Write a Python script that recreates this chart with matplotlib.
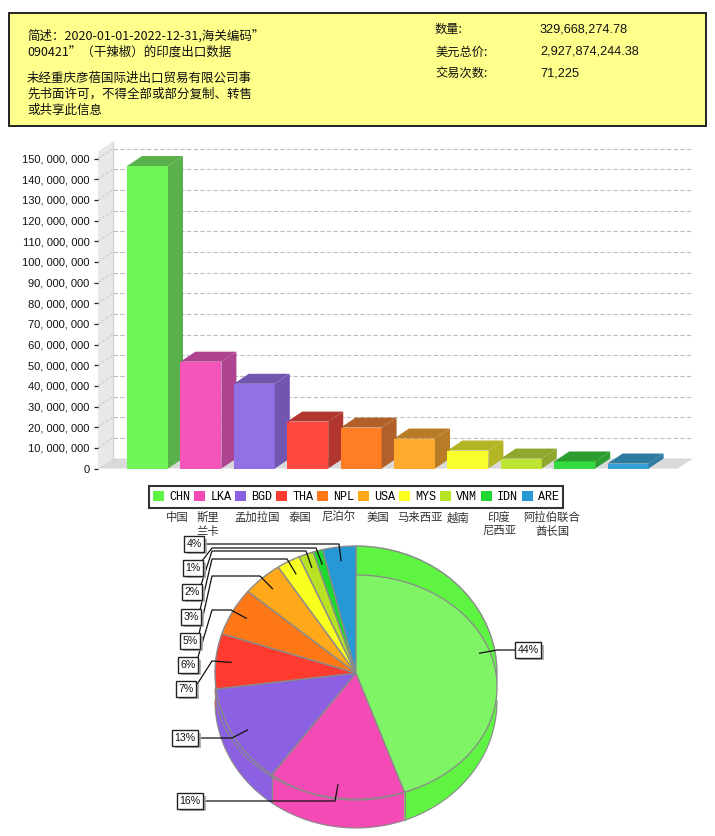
import numpy as np
import matplotlib
matplotlib.use('Agg')
import matplotlib.pyplot as plt
import matplotlib.patheffects as pe
from matplotlib.patches import Polygon, Rectangle, Patch

plt.rcParams['font.family'] = ['Noto Sans CJK SC', 'DejaVu Sans']

codes = ['CHN', 'LKA', 'BGD', 'THA', 'NPL', 'USA', 'MYS', 'VNM', 'IDN', 'ARE']
names = ['中国', '斯里\n兰卡', '孟加拉国', '泰国', '尼泊尔', '美国', '马来西亚', '越南', '印度\n尼西亚', '阿拉伯联合\n酋长国']
bar_values = [146400000, 51700000, 41000000, 22700000, 19800000, 14500000, 8700000, 4800000, 3400000, 2400000]
pie_shares = [44.4, 15.8, 12.8, 7.0, 6.1, 4.6, 2.7, 1.7, 1.1, 3.8]
yticks = list(range(0, 160000000, 10000000))

front_colors = ['#70F558', '#F555BB', '#9470E6', '#FF4840', '#FF7E25', '#FFAA2C', '#F8FF2C', '#BEE434', '#33DC3E', '#38A0D8']
side_colors = ['#5AB04A', '#AE4490', '#7255AF', '#B23630', '#B06028', '#B87C26', '#B4B525', '#8EA72C', '#2C9E30', '#2E7BA0']
pie_colors = ['#5FF342', '#F44AB6', '#8B60E2', '#FF3A2E', '#FF7818', '#FFA81A', '#F9FF1E', '#B8E324', '#1FD82F', '#2698D6']

W, H = 715, 836
fig = plt.figure(figsize=(W / 100, H / 100), dpi=100)


def px_axes(left, top, right, bottom):
    return fig.add_axes([left / W, 1 - bottom / H, (right - left) / W, (bottom - top) / H])


# full figure overlay in pixels, for header box, labels and leader lines
ov = px_axes(0, 0, W, H)
ov.set_xlim(0, W)
ov.set_ylim(H, 0)
ov.set_axis_off()
ov.set_zorder(5)
ov.patch.set_alpha(0)

ov.add_patch(Rectangle((9, 13), 697, 113, fc='#FFFF8C', ec='#222222', lw=1.4))
left_lines = [('简述：2020-01-01-2022-12-31,海关编码”', 36), ('090421”（干辣椒）的印度出口数据', 52),
              ('未经重庆彦蓓国际进出口贸易有限公司事', 78), ('先书面许可，不得全部或部分复制、转售', 94), ('或共享此信息', 110)]
for s, y in left_lines:
    ov.text(27, y, s, fontsize=9, va='center', ha='left', color='#111111')
stats = [('数量:', '329,668,274.78', 29), ('美元总价:', '2,927,874,244.38', 52), ('交易次数:', '71,225', 73)]
for a, b, y in stats:
    ov.text(435, y, a, fontsize=8.8, va='center', ha='left', color='#111111')
    ov.text(540, y, b, fontsize=9.2, va='center', ha='left', color='#111111', family='Liberation Sans')

# bar chart
ax = px_axes(98, 140, 693, 468.5)
pitch = 53.4
px_per_val = 20.66 / 1e7
dx = 15 / pitch
dy = 10 / px_per_val
xmin = (98 - 147.5) / pitch
xmax = (693 - 147.5) / pitch
ymax = 328.5 / px_per_val
ax.set_xlim(xmin, xmax)
ax.set_ylim(0, ymax)
for s in ax.spines.values():
    s.set_visible(False)

walltop = 153.4e6
ax.add_patch(Polygon([(xmin, 0), (xmin + dx, dy), (xmin + dx, walltop + dy), (xmin, walltop)],
                     fc='#E8E8E8', ec='none', zorder=1))
ax.add_patch(Polygon([(xmin, 0), (xmin + dx, dy), (xmax, dy), (xmax - dx, 0)], fc='#D9D9D9', ec='none', zorder=1))
ax.plot([xmin + dx, xmin + dx], [dy, walltop + dy], color='#D4D4D4', lw=1, zorder=1.5)
for t in yticks[1:]:
    ax.plot([xmin + dx, xmax], [t + dy, t + dy], color='#BDBDBD', lw=0.8, ls=(0, (4, 2)), zorder=1.5)
    ax.plot([xmin, xmin + dx], [t, t + dy], color='#C8C8C8', lw=0.7, ls=(0, (3, 2)), zorder=1.5)

bar_w = 41 / pitch
xs = np.arange(len(codes))
for i, v in enumerate(bar_values):
    l, r = xs[i] - bar_w / 2, xs[i] + bar_w / 2
    ax.bar(xs[i], v, width=bar_w, color=front_colors[i], zorder=2 + i)
    ax.add_patch(Polygon([(r, 0), (r + dx, dy), (r + dx, v + dy), (r, v)], fc=side_colors[i], ec='none', zorder=2 + i))
    ax.add_patch(Polygon([(l, v), (l + dx, v + dy), (r + dx, v + dy), (r, v)], fc=side_colors[i], ec='none', zorder=2 + i))

ax.set_xticks([])
ax.set_yticks(yticks)
ax.set_yticklabels(['0' if t == 0 else f'{t:,}'.replace(',', ', ') for t in yticks],
                   fontsize=8, family='Liberation Sans', color='#111111')
ax.tick_params(axis='y', length=3, width=0.9, pad=3, color='#222222')

# legend, its frame is drawn on the overlay
handles = [Patch(fc=c, ec='none', label=k) for k, c in zip(codes, pie_colors)]
fig.legend(handles=handles, ncol=10, loc='center', bbox_to_anchor=(356 / W, 1 - 497 / H),
           prop={'family': 'Liberation Mono', 'size': 8.5}, frameon=False, handlelength=0.94, handleheight=0.94,
           handletextpad=0.42, columnspacing=0.33, borderpad=0, borderaxespad=0)
ov.add_patch(Rectangle((149, 486), 414, 22, fc='none', ec='#333333', lw=1.5))

name_x = [177, 208, 257, 300, 338, 378, 420, 458, 499, 552]
for x, n in zip(name_x, names):
    ov.text(x, 512, n, fontsize=8.2, ha='center', va='top', color='#333333', linespacing=1.3)

# pie, squashed to an ellipse; side wall from stacked copies shifted down
cx, cy, rx, ry = 356, 673, 141, 127
pie_ax = px_axes(cx - 150, 536, cx + 150, 836)
depth = 28 / ry
for d in np.linspace(depth, 0, 15):
    pie_ax.pie(pie_shares, colors=pie_colors, startangle=90, counterclock=False, center=(0, -d), radius=1,
               wedgeprops={'edgecolor': 'none'})
wedges, _ = pie_ax.pie(pie_shares, colors=pie_colors, startangle=90, counterclock=False, center=(0, 0), radius=1,
                       wedgeprops={'edgecolor': '#8A8A8A', 'linewidth': 1})
pie_ax.set_aspect('auto')
pie_ax.set_xlim(-150 / rx, 150 / rx)
pie_ax.set_ylim(-(836 - cy) / ry, (cy - 536) / ry)

# lighter face on the biggest slice and the grey inner rim
cum = np.cumsum([0] + pie_shares) * 3.6
shift = 14 / ry
inner = 112 / ry
t = np.radians(np.linspace(cum[0], cum[1], 80))
pts = np.column_stack([np.sin(t), inner * np.cos(t) - shift])
pie_ax.add_patch(Polygon(np.vstack([[(0, 0)], pts]), fc='#7FF566', ec='#8A8A8A', lw=0.9, zorder=3))
t = np.radians(np.linspace(cum[1], cum[3] + 6, 80))
pie_ax.plot(np.sin(t), inner * np.cos(t) - shift, color='#8A8A8A', lw=0.8, zorder=3)
for a in (cum[1], cum[2]):
    sx, sy = np.sin(np.radians(a)), np.cos(np.radians(a))
    pie_ax.plot([sx, sx], [sy, sy - depth], color='#8A8A8A', lw=0.9, zorder=3)
t = np.radians(np.linspace(90, 270, 120))
pie_ax.plot(np.sin(t), np.cos(t) - depth, color='#8A8A8A', lw=0.8, zorder=3)

# leader lines and percent boxes
label_layout = {
    'CHN': ((528, 650), [(497, 650), (517, 650)]),
    'LKA': ((190, 801), [(335, 801), (203, 801)]),
    'BGD': ((185, 738), [(232, 738), (198, 738)]),
    'THA': ((186, 689), [(212, 661), (196, 686)]),
    'NPL': ((188, 665), [(231, 610), (212, 610), (198, 657)]),
    'USA': ((190, 641), [(260, 576), (212, 576), (199, 634)]),
    'MYS': ((191, 617), [(287, 559), (212, 559), (200, 610)]),
    'VNM': ((192, 592), [(306, 551), (212, 551), (201, 585)]),
    'IDN': ((193, 568), [(316, 548), (212, 548), (202, 561)]),
    'ARE': ((194, 544), [(339, 544), (205, 544)]),
}
mids = (cum[:-1] + cum[1:]) / 2
for code, share, mid in zip(codes, pie_shares, mids):
    (bx, by), path = label_layout[code]
    ex = cx + rx * 0.89 * np.sin(np.radians(mid))
    ey = cy - ry * 0.89 * np.cos(np.radians(mid))
    line = [(ex, ey)] + path
    ov.plot([p[0] for p in line], [p[1] for p in line], color='#111111', lw=0.9, zorder=6)
    txt = ov.text(bx, by, f'{share:.0f}%', fontsize=7.6, ha='center', va='center', family='Liberation Sans', color='#111111',
                  zorder=7, bbox={'boxstyle': 'square,pad=0.25', 'fc': 'white', 'ec': '#222222', 'lw': 1})
    txt.get_bbox_patch().set_path_effects([pe.withSimplePatchShadow(offset=(2, -2), shadow_rgbFace='#AAAAAA', alpha=0.9)])

fig.savefig('out.png', dpi=100)
